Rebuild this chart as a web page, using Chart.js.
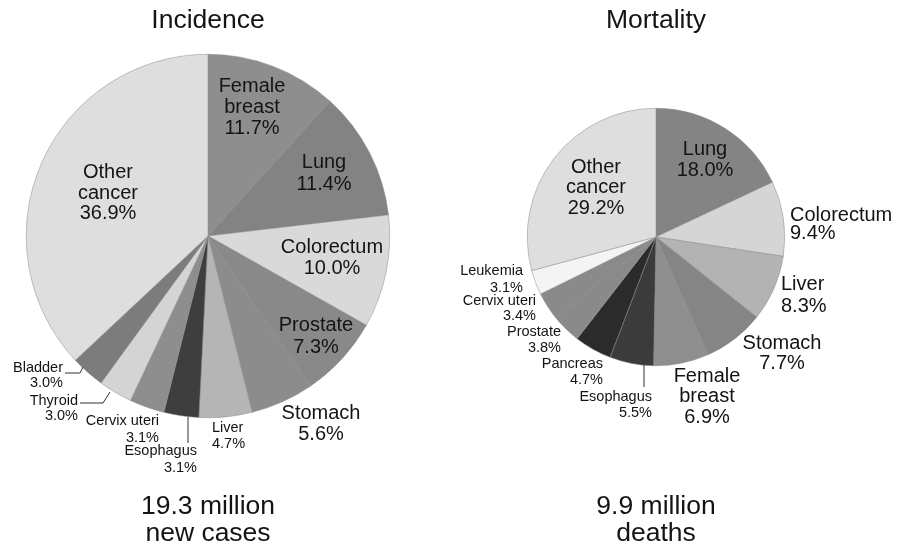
<!DOCTYPE html>
<html>
<head>
<meta charset="utf-8">
<script src="https://cdn.jsdelivr.net/npm/chart.js@4.4.1/dist/chart.umd.min.js"></script>
<style>
  html, body { margin: 0; padding: 0; background: #ffffff; }
  #wrap { position: relative; width: 897px; height: 544px; overflow: hidden; }
  canvas { position: absolute; top: 0; }
</style>
</head>
<body>
<div id="wrap">
  <canvas id="inc" width="448" height="544" style="left:0px"></canvas>
  <canvas id="mor" width="449" height="544" style="left:448px"></canvas>
</div>
<script>
// ---------- DATA ----------
const incidenceCategories = ["Female breast", "Lung", "Colorectum", "Prostate", "Stomach", "Liver",
  "Esophagus", "Cervix uteri", "Thyroid", "Bladder", "Other cancer"];
const incidenceValues = [11.7, 11.4, 10.0, 7.3, 5.6, 4.7, 3.1, 3.1, 3.0, 3.0, 36.9];

const mortalityCategories = ["Lung", "Colorectum", "Liver", "Stomach", "Female breast", "Esophagus",
  "Pancreas", "Prostate", "Cervix uteri", "Leukemia", "Other cancer"];
const mortalityValues = [18.0, 9.4, 8.3, 7.7, 6.9, 5.5, 4.7, 3.8, 3.4, 3.1, 29.2];

const incidenceTitle = "Incidence";
const incidenceTotal = ["19.3 million", "new cases"];
const mortalityTitle = "Mortality";
const mortalityTotal = ["9.9 million", "deaths"];

// ---------- STYLES ----------
const incidenceColors = ["#8e8e8e", "#838383", "#d9d9d9", "#898989", "#8c8c8c", "#b5b5b5",
  "#3e3e3e", "#8e8e8e", "#d4d4d4", "#7c7c7c", "#dedede"];
const mortalityColors = ["#848484", "#d5d5d5", "#b3b3b3", "#858585", "#8f8f8f", "#3b3b3b",
  "#2b2b2b", "#8a8a8a", "#8a8a8a", "#f4f4f4", "#dedede"];

const FONT = '"Liberation Sans", Arial, Helvetica, sans-serif';
const BIG = 20, SMALL = 14.5, TITLE = 26.5;

// label placement, in px relative to pie centre (first baseline)
const incidencePlacement = [
  { dx: 44,   dy: -144,  align: "center", small: false, lh: 21 },
  { dx: 116,  dy: -68,   align: "center", small: false, lh: 22 },
  { dx: 124,  dy: 16.5,  align: "center", small: false, lh: 21.5 },
  { dx: 108,  dy: 95,    align: "center", small: false, lh: 22 },
  { dx: 113,  dy: 183,   align: "center", small: false, lh: 21 },
  { dx: 4,    dy: 196,   align: "left",   small: true,  lh: 16 },
  { dx: -11,  dy: 218.5, align: "right",  small: true,  lh: 17, leader: [[-20, "edge"], [-20, 207]] },
  { dx: -49,  dy: 189,   align: "right",  small: true,  lh: 17 },
  { dx: -130, dy: 169,   align: "right",  small: true,  lh: 15, leader: [[-98, 156], [-105, 167], [-128, 167]] },
  { dx: -145, dy: 136,   align: "right",  small: true,  lh: 15, leader: [[-125, 131], [-128, 137], [-143, 137]] },
  { dx: -100, dy: -58,   align: "center", small: false, lh: 20.5 }
];
const mortalityPlacement = [
  { dx: 49,   dy: -82.5, align: "center", small: false, lh: 21 },
  { dx: 134,  dy: -16,   align: "left",   small: false, lh: 18.3 },
  { dx: 125,  dy: 53.3,  align: "left",   small: false, lh: 21.7 },
  { dx: 126,  dy: 112.3, align: "center", small: false, lh: 20 },
  { dx: 51,   dy: 145,   align: "center", small: false, lh: 20.3 },
  { dx: -4,   dy: 164,   align: "right",  small: true,  lh: 16, leader: [[-12, "edge"], [-12, 150]] },
  { dx: -53,  dy: 131.3, align: "right",  small: true,  lh: 15.7 },
  { dx: -95,  dy: 99,    align: "right",  small: true,  lh: 16 },
  { dx: -120, dy: 68,    align: "right",  small: true,  lh: 15 },
  { dx: -133, dy: 38,    align: "right",  small: true,  lh: 17 },
  { dx: -60,  dy: -64.5, align: "center", small: false, lh: 20.5 }
];

function labelLines(name, value, small) {
  const pct = value.toFixed(1) + "%";
  if (small) return [name, pct];
  return name.split(" ").concat([pct]);
}

const pieLabels = {
  id: "pieLabels",
  afterDatasetsDraw(chart, args, opts) {
    const ctx = chart.ctx;
    const meta = chart.getDatasetMeta(0);
    const arc0 = meta.data[0];
    const cx = arc0.x, cy = arc0.y, R = arc0.outerRadius;
    const cats = chart.data.labels;
    const vals = chart.data.datasets[0].data;
    ctx.save();
    ctx.fillStyle = "#141414";
    opts.placement.forEach((p, i) => {
      const lines = labelLines(cats[i], vals[i], p.small);
      ctx.font = (p.small ? SMALL : BIG) + "px " + FONT;
      ctx.textAlign = p.align;
      ctx.textBaseline = "alphabetic";
      lines.forEach((t, k) => ctx.fillText(t, cx + p.dx, cy + p.dy + k * p.lh));
      if (p.leader) {
        ctx.beginPath();
        ctx.strokeStyle = "#333333";
        ctx.lineWidth = 1;
        p.leader.forEach((pt, k) => {
          const x = cx + pt[0];
          const y = pt[1] === "edge" ? cy + Math.sqrt(R * R - pt[0] * pt[0]) : cy + pt[1];
          if (k === 0) ctx.moveTo(x, y); else ctx.lineTo(x, y);
        });
        ctx.stroke();
      }
    });
    ctx.textAlign = "center";
    ctx.font = TITLE + "px " + FONT;
    ctx.fillText(opts.title, cx, opts.titleY);
    opts.total.forEach((t, k) => ctx.fillText(t, cx, opts.totalY + k * 26.5));
    ctx.restore();
  }
};

function makePie(id, cats, vals, colors, padding, placement, title, total) {
  return new Chart(document.getElementById(id), {
    type: "pie",
    data: {
      labels: cats,
      datasets: [{
        data: vals,
        backgroundColor: colors,
        borderColor: "#8a8a8a",
        borderWidth: 0.5
      }]
    },
    options: {
      responsive: false,
      animation: false,
      devicePixelRatio: 1,
      layout: { padding: padding },
      plugins: {
        legend: { display: false },
        tooltip: { enabled: false },
        pieLabels: { placement: placement, title: title, total: total, titleY: 28, totalY: 514 }
      }
    },
    plugins: [pieLabels]
  });
}

makePie("inc", incidenceCategories, incidenceValues, incidenceColors,
  { left: 26, right: 58, top: 54, bottom: 126 }, incidencePlacement, incidenceTitle, incidenceTotal);
makePie("mor", mortalityCategories, mortalityValues, mortalityColors,
  { left: 79, right: 112, top: 108, bottom: 178 }, mortalityPlacement, mortalityTitle, mortalityTotal);
</script>
</body>
</html>
